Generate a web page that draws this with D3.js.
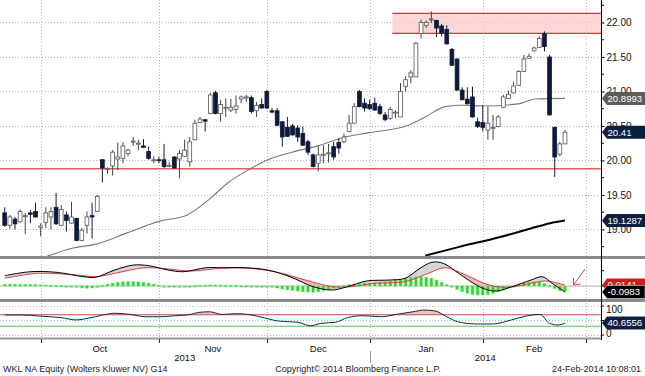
<!DOCTYPE html>
<html><head><meta charset="utf-8">
<script src="https://cdn.jsdelivr.net/npm/d3@7"></script>
<style>body{margin:0;background:#fff;} svg{display:block;font-family:"Liberation Sans",Arial,sans-serif;}</style>
</head><body><svg id="c" width="645" height="376"></svg>
<script>
// ---------- DATA ----------
const opens  = [19.24,19.06,19.15,19.11,19.19,19.24,19.26,19.03,19.10,19.18,19.32,19.06,19.21,19.09,19.16,18.84,19.06,19.20,19.26,20.01,
19.87,19.92,20.02,20.03,20.10,20.27,20.24,20.21,20.13,20.01,20.01,20.01,19.93,20.05,20.02,20.06,19.98,20.30,20.55,20.59,
20.68,20.98,20.68,20.76,20.73,20.74,20.89,20.91,20.91,20.72,20.81,21.00,20.72,20.72,20.56,20.48,20.50,20.47,20.39,20.27,
20.08,19.96,20.08,20.10,20.20,20.26,20.27,20.42,20.54,21.00,20.83,20.81,20.83,20.78,20.66,20.61,20.69,20.63,21.07,21.21,
21.21,21.84,21.96,22.04,22.03,21.95,21.90,21.61,21.47,21.02,20.89,20.92,20.56,20.55,20.44,20.47,20.49,20.77,20.90,20.98,
21.09,21.29,21.48,21.59,21.64,21.84,21.50,20.48,20.09,20.24];
const highs  = [19.32,19.21,19.18,19.29,19.24,19.28,19.39,19.09,19.32,19.32,19.53,19.35,19.26,19.40,19.17,19.02,19.26,19.39,19.50,20.02,
19.90,20.15,20.26,20.27,20.17,20.34,20.30,20.31,20.20,20.06,20.05,20.24,19.98,20.06,20.15,20.30,20.34,20.59,20.63,20.60,
20.98,21.01,20.88,20.90,20.89,20.94,20.94,20.95,20.94,20.85,20.90,21.02,20.76,20.76,20.57,20.63,20.53,20.51,20.49,20.30,
20.10,20.22,20.22,20.24,20.27,20.32,20.39,20.66,20.83,21.02,20.90,20.88,20.91,20.82,20.70,20.78,20.73,21.12,21.22,21.31,
21.72,22.04,22.03,22.16,22.04,21.98,21.96,21.63,21.48,21.06,21.06,21.07,20.62,20.80,20.78,20.66,20.66,20.95,21.01,21.14,
21.31,21.53,21.55,21.65,21.80,21.87,21.53,20.49,20.27,20.44];
const lows   = [19.04,19.01,19.00,19.10,18.93,19.09,19.17,18.90,19.02,19.00,19.07,19.05,18.97,19.08,18.83,18.83,18.94,18.87,19.25,19.68,
19.81,19.78,19.86,19.96,20.06,20.21,20.15,20.19,20.01,19.96,19.96,19.89,19.90,19.88,19.74,20.05,19.91,20.29,20.54,20.42,
20.67,20.67,20.56,20.63,20.70,20.68,20.83,20.85,20.68,20.63,20.75,20.75,20.69,20.50,20.20,20.34,20.36,20.27,20.21,20.08,
19.90,19.84,19.96,19.97,20.01,20.10,20.25,20.41,20.53,20.77,20.71,20.73,20.72,20.66,20.57,20.59,20.61,20.63,21.00,21.12,
21.21,21.77,21.92,21.99,21.79,21.80,21.68,21.37,21.01,20.87,20.81,20.62,20.47,20.42,20.30,20.30,20.48,20.76,20.89,20.97,
21.08,21.28,21.47,21.58,21.63,21.58,20.65,19.76,20.06,20.24];
const closes = [19.06,19.18,19.08,19.26,19.20,19.22,19.18,19.05,19.24,19.26,19.08,19.29,19.13,19.18,18.84,18.99,19.18,19.18,19.48,19.89,
19.88,20.12,20.05,20.21,20.15,20.28,20.25,20.19,20.03,20.01,20.00,19.91,19.93,19.89,20.10,20.15,20.27,20.54,20.60,20.57,
20.95,20.68,20.81,20.77,20.77,20.79,20.92,20.92,20.71,20.80,20.76,20.76,20.70,20.51,20.34,20.35,20.37,20.34,20.22,20.12,
19.91,20.08,20.09,20.11,20.05,20.18,20.34,20.54,20.78,20.78,20.76,20.75,20.73,20.68,20.59,20.74,20.70,21.00,21.17,21.27,
21.70,22.00,22.00,22.05,21.92,21.84,21.69,21.38,21.02,20.88,20.82,20.63,20.49,20.48,20.54,20.48,20.63,20.92,20.96,21.08,
21.29,21.47,21.51,21.63,21.77,21.65,20.66,20.05,20.24,20.41];

// moving averages read at sample points: [day index, value]
const maGray  = [[7.5,18.59],[13.3,18.73],[18,18.79],[23.8,18.95],[30.2,19.12],[35.5,19.21],[40,19.45],[43.5,19.68],[47.3,19.86],
  [51.2,20.01],[55.9,20.12],[60.4,20.20],[66.2,20.34],[70.7,20.40],[78.5,20.51],[81.8,20.63],[85.7,20.78],[89,20.80],[93.4,20.79],
  [99.9,20.82],[103.2,20.89],[109,20.8993]];
const maBlack = [[81.8,18.62],[88.6,18.75],[96.4,18.89],[102.2,19.01],[106.1,19.09],[109,19.1287]];

// MACD panel
const macdLine = [[0,0.169],[5,0.234],[10,0.225],[15.4,0.152],[17.7,0.143],[21.4,0.262],[25.1,0.344],[28,0.333],[31.8,0.262],
  [34.7,0.234],[39.2,0.300],[42.2,0.300],[46.7,0.300],[51.1,0.262],[55.5,0.152],[60,-0.011],[63.7,-0.066],[66.7,-0.011],
  [70.4,0.082],[74.9,0.098],[77.9,0.126],[80.8,0.290],[83.1,0.389],[85.3,0.372],[88.3,0.208],[91.2,0.044],[93.4,-0.049],
  [95.7,-0.082],[98.7,-0.011],[102.4,0.098],[104.6,0.152],[106.5,0.044],[109,-0.0983]];
const signalLine = [[0,0.126],[6.5,0.208],[13.9,0.180],[17.7,0.152],[21.4,0.208],[27.3,0.300],[31.8,0.279],[36.2,0.246],
  [42.2,0.290],[47.3,0.290],[52.6,0.234],[58.5,0.098],[63.7,-0.011],[67.4,-0.011],[71.9,0.044],[77.9,0.070],[82.4,0.208],
  [85.7,0.300],[89.7,0.180],[94.2,0.016],[98,-0.021],[102.4,0.044],[105.3,0.082],[109,0.0141]];
const histogram = [0.025,0.026,0.026,0.028,0.026,0.025,0.023,
 0.020,0.016,0.011,0.008,0.005,
 0,-0.008,-0.020,
 -0.030,-0.036,-0.033,-0.020,
 0.008,0.030,0.046,
 0.057,0.066,0.071,0.072,0.069,0.059,0.046,
 0.030,0.013,0,
 -0.013,-0.020,-0.021,-0.015,-0.007,0.003,
 0.010,0.015,0.016,0.016,0.013,0.010,0.008,0.007,
 0.005,0.003,0.002,0,-0.003,-0.010,
 -0.020,-0.033,-0.046,-0.059,-0.071,-0.082,-0.092,-0.098,-0.102,-0.095,-0.079,-0.056,-0.033,
 -0.010,0.008,
 0.021,0.033,0.041,0.046,0.049,0.054,0.062,0.071,0.082,0.095,0.108,0.125,0.141,0.153,
 0.154,0.144,0.125,0.095,0.059,
 0.020,-0.020,-0.057,
 -0.092,-0.118,-0.138,-0.148,-0.148,-0.139,-0.121,-0.095,-0.062,
 -0.030,0.003,
 0.030,0.049,0.062,0.069,0.066,
 0.041,0.008,
 -0.041,-0.074,-0.092];

// RSI panel
const rsi = [[0,69],[3.6,69],[6.5,65.5],[8.8,63],[10.9,60],[13.9,52],[16.2,57.5],[19.1,69],[21.4,75],[24.4,71],[27.3,63],
  [30.2,63],[33.3,66.5],[36.2,71],[37.8,78],[39.9,80],[42.2,71],[45.1,73.5],[47.3,71],[49.6,63],[53.3,48],[57,44],[59.5,32],
  [61.5,40],[64.4,44],[66.7,60],[69.6,66.5],[73.3,63],[76.2,71],[79.4,80],[81.5,86],[83.7,83],[86,63],[88.1,46],[91.9,38],
  [94.9,38],[98.6,52],[101.5,65.5],[104.1,71],[106,40],[107.5,34.5],[109,40.6556]];
const rsiLevels = [70, 30];

// levels
const supportLevel = 19.88;
const resistanceBand = [21.843, 22.133];
const resistanceStart = 75.4;

// axes
const priceTicks = [19.00,19.50,20.00,20.50,21.00,21.50,22.00];
const priceMinorTicks = [18.75,19.25,19.75,20.25,20.75,21.25,21.75,22.25];
const macdTicks = [0.25, 0];
const rsiTicks = [100, 50, 0];
const rsiTickLabels = ["100", "0"];
const monthStarts = [7, 30, 51, 71, 93, 113];
const monthLabels = ["Oct","Nov","Dec","Jan","Feb"];
const yearLabels = ["2013","2014"];
const yearStart = 71;

// last-value tags
const tags = [
  {v:20.8993, txt:"20.8993", fill:"#5c5c5c"},
  {v:20.41,   txt:"20.41",   fill:"#0e1f40"},
  {v:19.1287, txt:"19.1287", fill:"#0e1f40"}
];

// ---------- CHART ----------
const svg = d3.select("#c");
const AX = 601;
const x = d3.scaleLinear().domain([0,109]).range([4.7,565]);
const yP = d3.scaleLinear().domain([18.60,22.326]).range([257,0]);
const yM = d3.scaleLinear().domain([-0.2295,0.459]).range([300,258]);
const yR = d3.scaleLinear().domain([-13.8,117.2]).range([339,301]);

const defs = svg.append("defs");
defs.append("clipPath").attr("id","cp").append("rect").attr("x",0).attr("y",0).attr("width",AX).attr("height",256);
defs.append("clipPath").attr("id","cm").append("rect").attr("x",0).attr("y",259).attr("width",AX).attr("height",40);
defs.append("clipPath").attr("id","cr").append("rect").attr("x",0).attr("y",302).attr("width",AX).attr("height",36);

const dotted = {stroke:"#b5b5b5", "stroke-dasharray":"1,2", "stroke-width":1};
function applyAttrs(sel, o){ for (const k in o) sel.attr(k,o[k]); return sel; }

// grid
const grid = svg.append("g");
priceTicks.forEach(t=>{
  applyAttrs(grid.append("line").attr("x1",0).attr("x2",AX).attr("y1",Math.round(yP(t))+0.5).attr("y2",Math.round(yP(t))+0.5), dotted);
});
rsiTicks.forEach(t=>{
  applyAttrs(grid.append("line").attr("x1",0).attr("x2",AX).attr("y1",Math.round(yR(t))+0.5).attr("y2",Math.round(yR(t))+0.5), dotted);
});
monthStarts.forEach(m=>{
  applyAttrs(grid.append("line").attr("x1",Math.round(x(m))+0.5).attr("x2",Math.round(x(m))+0.5).attr("y1",0).attr("y2",338), dotted);
});

// ---- price panel ----
const gp = svg.append("g").attr("clip-path","url(#cp)");
gp.append("rect").attr("x",x(resistanceStart)).attr("width",AX-x(resistanceStart))
  .attr("y",yP(resistanceBand[1])).attr("height",yP(resistanceBand[0])-yP(resistanceBand[1]))
  .attr("fill","#f9c9c9").attr("fill-opacity",0.75);
resistanceBand.forEach(v=>{
  gp.append("line").attr("x1",x(resistanceStart)).attr("x2",AX).attr("y1",yP(v)).attr("y2",yP(v))
    .attr("stroke","#c83c3c").attr("stroke-width",1.2);
});
gp.append("line").attr("x1",0).attr("x2",AX).attr("y1",yP(supportLevel)).attr("y2",yP(supportLevel))
  .attr("stroke","#e06060").attr("stroke-width",1.6);

const lineFn = (yS)=>d3.line().x(d=>x(d[0])).y(d=>yS(d[1])).curve(d3.curveMonotoneX);
gp.append("path").attr("d",lineFn(yP)(maGray)).attr("fill","none").attr("stroke","#7a7a7a").attr("stroke-width",1.1);
gp.append("path").attr("d",lineFn(yP)(maBlack)).attr("fill","none").attr("stroke","#000").attr("stroke-width",2);

const candles = opens.map((o,i)=>({i,o,h:highs[i],l:lows[i],c:closes[i]}));
gp.selectAll(".wk").data(candles).join("line").attr("class","wk")
  .attr("x1",d=>x(d.i)).attr("x2",d=>x(d.i)).attr("y1",d=>yP(d.h)).attr("y2",d=>yP(d.l))
  .attr("stroke",d=>d.c<d.o?"#0e1b38":"#444").attr("stroke-width",1);
gp.selectAll(".bd").data(candles).join("rect").attr("class","bd")
  .attr("x",d=>x(d.i)-1.9).attr("width",3.8)
  .attr("y",d=>yP(Math.max(d.o,d.c)))
  .attr("height",d=>Math.max(1,Math.abs(yP(d.o)-yP(d.c))))
  .attr("fill",d=>d.c<d.o?"#0e1b38":"#fff")
  .attr("stroke",d=>d.c<d.o?"#0e1b38":"#555").attr("stroke-width",0.8);

// ---- MACD panel ----
const gm = svg.append("g").attr("clip-path","url(#cm)");
gm.append("line").attr("x1",0).attr("x2",AX).attr("y1",yM(0)).attr("y2",yM(0)).attr("stroke","#b0b0b0").attr("stroke-width",1);
const lm = d3.line().x(d=>x(d[0])).y(d=>yM(d[1])).curve(d3.curveCatmullRom);
const mPath = lm(macdLine);
const sRev = lm(signalLine.slice().reverse());
const poly = mPath + "L" + sRev.slice(1) + "Z";
const x0 = x(macdLine[0][0]), x1 = x(macdLine[macdLine.length-1][0]);
defs.append("clipPath").attr("id","cAbove").append("path").attr("d", mPath + `L${x1},250L${x0},250Z`);
defs.append("clipPath").attr("id","cBelow").append("path").attr("d", mPath + `L${x1},310L${x0},310Z`);
gm.append("g").attr("clip-path","url(#cAbove)").append("path").attr("d",poly).attr("fill","#f4a9a9").attr("fill-opacity",0.85);
gm.append("g").attr("clip-path","url(#cBelow)").append("path").attr("d",poly).attr("fill","#d6d6d6");
gm.selectAll(".hg").data(histogram).join("rect").attr("class","hg")
  .attr("x",(d,i)=>x(i)-2).attr("width",4)
  .attr("y",d=>Math.min(yM(0),yM(d))-0.6).attr("height",d=>Math.max(1.2,Math.abs(yM(d)-yM(0)))+1.2)
  .attr("fill","#9ff29f").attr("opacity",0.7);
gm.selectAll(".hb").data(histogram).join("rect").attr("class","hb")
  .attr("x",(d,i)=>x(i)-1.3).attr("width",2.6)
  .attr("y",d=>Math.min(yM(0),yM(d))).attr("height",d=>Math.max(1.2,Math.abs(yM(d)-yM(0))))
  .attr("fill","#2fd62f");
gm.append("path").attr("d",lm(signalLine)).attr("fill","none").attr("stroke","#de4040").attr("stroke-width",1);
gm.append("path").attr("d",mPath).attr("fill","none").attr("stroke","#000").attr("stroke-width",1);
const ar = svg.append("g").attr("stroke","#d84848").attr("stroke-width",1).attr("fill","none");
ar.append("line").attr("x1",585).attr("y1",269).attr("x2",573.5).attr("y2",285);
ar.append("polyline").attr("points","573.5,278 573.5,285 580.5,284");

// ---- RSI panel ----
const gr = svg.append("g").attr("clip-path","url(#cr)");
defs.append("clipPath").attr("id","cOB").append("rect").attr("x",0).attr("y",300).attr("width",AX).attr("height",yR(70)-300);
const lr = d3.line().x(d=>x(d[0])).y(d=>yR(d[1])).curve(d3.curveMonotoneX);
const ar2 = d3.area().x(d=>x(d[0])).y0(yR(70)).y1(d=>yR(d[1])).curve(d3.curveMonotoneX);
gr.append("g").attr("clip-path","url(#cOB)").append("path").attr("d",ar2(rsi)).attr("fill","#efc2c2");
gr.append("line").attr("x1",0).attr("x2",AX).attr("y1",yR(rsiLevels[0])).attr("y2",yR(rsiLevels[0])).attr("stroke","#d24a4a").attr("stroke-width",1.1);
gr.append("line").attr("x1",0).attr("x2",AX).attr("y1",yR(rsiLevels[1])).attr("y2",yR(rsiLevels[1])).attr("stroke","#4cc84c").attr("stroke-width",1.1);
gr.append("path").attr("d",lr(rsi)).attr("fill","none").attr("stroke","#1a2845").attr("stroke-width",1);

// ---- separators & axes ----
[257.5, 300.5].forEach(yy=>{
  svg.append("line").attr("x1",0).attr("x2",645).attr("y1",yy).attr("y2",yy).attr("stroke","#8a8a8a").attr("stroke-width",3);
});
svg.append("line").attr("x1",0).attr("x2",AX).attr("y1",338.5).attr("y2",338.5).attr("stroke","#9a9a9a").attr("stroke-width",2.2);
svg.append("line").attr("x1",AX+0.5).attr("x2",AX+0.5).attr("y1",0).attr("y2",340).attr("stroke","#000").attr("stroke-width",1);

const pa = svg.append("g").attr("transform",`translate(${AX+0.5},0)`)
  .call(d3.axisRight(yP).tickValues(priceTicks).tickFormat(d3.format(".2f")).tickSize(3).tickPadding(2));
pa.select(".domain").remove();
pa.selectAll("text").attr("font-size",10).attr("fill","#111").attr("font-family","Liberation Sans, Arial, sans-serif");
pa.selectAll("line").attr("stroke","#000");
priceMinorTicks.forEach(t=>{
  svg.append("line").attr("x1",AX).attr("x2",AX+3).attr("y1",yP(t)).attr("y2",yP(t)).attr("stroke","#000");
});
macdTicks.forEach(t=>{
  svg.append("line").attr("x1",AX).attr("x2",AX+3).attr("y1",yM(t)).attr("y2",yM(t)).attr("stroke","#000");
});
rsiTicks.forEach(t=>{
  svg.append("line").attr("x1",AX).attr("x2",AX+3).attr("y1",yR(t)).attr("y2",yR(t)).attr("stroke","#000");
});
svg.append("text").attr("x",606).attr("y",yR(100)+4).attr("dy","0.35em").attr("font-size",10).attr("fill","#111").text(rsiTickLabels[0]);
svg.append("text").attr("x",606).attr("y",yR(0)-1.5).attr("dy","0.35em").attr("font-size",10).attr("fill","#111").text(rsiTickLabels[1]);

function tag(yc, txt, fill, stroke){
  const g = svg.append("g");
  g.append("path").attr("d",`M${AX+1},${yc}L${AX+6},${yc-6.5}L645,${yc-6.5}L645,${yc+6.5}L${AX+6},${yc+6.5}Z`)
    .attr("fill",fill).attr("stroke",stroke||"none").attr("stroke-width",0.7);
  g.append("text").attr("x",AX+6.5).attr("y",yc).attr("dy","0.36em").attr("font-size",9.6).attr("fill","#fff").text(txt);
}
tags.forEach(t=>tag(yP(t.v), t.txt, t.fill));
tag(285, signalLine[signalLine.length-1][1].toFixed(4), "#c81e1e");
tag(292, macdLine[macdLine.length-1][1].toFixed(4), "#000", "#bbb");
tag(323, rsi[rsi.length-1][1].toFixed(4), "#0e1f40");

monthStarts.forEach(m=>{
  svg.append("line").attr("x1",Math.round(x(m))+0.5).attr("x2",Math.round(x(m))+0.5).attr("y1",339).attr("y2",343).attr("stroke","#333");
});
monthLabels.forEach((lab,k)=>{
  svg.append("text").attr("x",(x(monthStarts[k])+x(monthStarts[k+1]))/2).attr("y",351.5)
    .attr("text-anchor","middle").attr("font-size",9.5).attr("fill","#111").text(lab);
});
const leftIdx = x.invert(0), rightIdx = x.invert(AX);
svg.append("text").attr("x",(x(leftIdx)+x(yearStart))/2).attr("y",360.5).attr("text-anchor","middle").attr("font-size",9.5).attr("fill","#111").text(yearLabels[0]);
svg.append("text").attr("x",(x(yearStart)+x(rightIdx))/2).attr("y",360.5).attr("text-anchor","middle").attr("font-size",9.5).attr("fill","#111").text(yearLabels[1]);
svg.append("line").attr("x1",Math.round(x(yearStart))+0.5).attr("x2",Math.round(x(yearStart))+0.5).attr("y1",351).attr("y2",363).attr("stroke","#999");

svg.append("text").attr("x",3).attr("y",372).attr("font-size",9).attr("fill","#222").text("WKL NA Equity (Wolters Kluwer NV) G14");
svg.append("text").attr("x",358).attr("y",372).attr("text-anchor","middle").attr("font-size",9).attr("fill","#222").text("Copyright© 2014 Bloomberg Finance L.P.");
svg.append("text").attr("x",641).attr("y",372).attr("text-anchor","end").attr("font-size",9).attr("fill","#222").text("24-Feb-2014 10:08:01");
</script></body></html>
